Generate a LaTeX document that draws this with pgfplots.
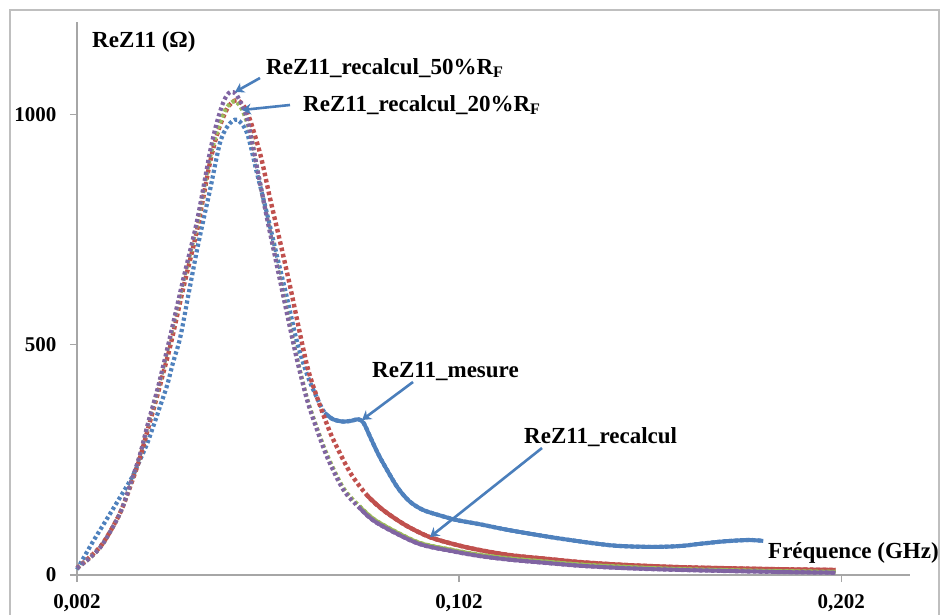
\documentclass[border=0pt]{standalone}
\usepackage{fontspec}
\setmainfont{Liberation Serif}
\usepackage{pgfplots}
\pgfplotsset{compat=1.18}
\usepackage{pgfplotstable}
\usetikzlibrary{arrows.meta}
\definecolor{cB}{HTML}{4F81BD}
\definecolor{cR}{HTML}{C0504D}
\definecolor{cG}{HTML}{9BBB59}
\definecolor{cP}{HTML}{8064A2}
\definecolor{axgray}{HTML}{A6A6A6}
\definecolor{frgray}{HTML}{BFBFBF}
\definecolor{arr}{HTML}{4A7EBB}

\pgfplotstableread{
x y
0.002 12
0.006 70
0.010 124
0.0133 169
0.0164 212
0.0185 250
0.0203 284
0.0219 321
0.0237 365
0.0256 412
0.0271 460
0.029 515
0.0312 610
0.0334 705
0.0352 775
0.0368 835
0.0394 937
0.0415 975
0.0439 988
0.0465 959
0.0491 872
0.0517 785
0.0544 690
0.057 600
0.0596 505
0.0622 435
0.0646 388
0.0668 352
0.069 338
0.0716 333
0.074 335
0.0756 338
0.077 330
0.0787 300
0.0805 268
0.0821 243
0.0858 191
0.089 160
0.0926 141
0.0975 128
0.1015 119
0.1075 110
0.116 96
0.1293 78
0.1423 64
0.1528 61
0.160 63
0.1643 67
0.170 72
0.1730 74
0.178 76
0.1816 74
}\mesure

\pgfplotstableread{
x y
0.002 15
0.0055 40
0.0088 69
0.0133 135
0.0164 203
0.0185 255
0.0206 318
0.0229 386
0.0245 436
0.0265 500
0.0298 622
0.0334 748
0.0368 895
0.039 965
0.0415 1015
0.0439 1030
0.0465 1005
0.0499 915
0.0525 818
0.0551 725
0.0578 625
0.0604 522
0.0625 445
0.0648 386
0.067 336
0.069 295
0.0735 222
0.078 172
0.0821 141
0.088 108
0.0944 82
0.1015 65
0.1075 54
0.1154 43
0.125 35
0.1337 28
0.145 22
0.1599 17
0.1827 13
0.2005 11
}\recalcul

\pgfplotstableread{
x y
0.002 15
0.0055 38
0.0088 68
0.0133 135
0.0164 207
0.0185 260
0.0206 327
0.0229 394
0.0245 447
0.0263 510
0.0298 636
0.0334 760
0.0368 905
0.039 970
0.041 1012
0.0432 1028
0.0452 1010
0.0475 955
0.0491 885
0.0517 777
0.0544 672
0.057 570
0.0596 470
0.0622 384
0.0646 324
0.0675 260
0.0717 189
0.076 149
0.0805 117
0.091 72
0.1 55
0.1075 44
0.1154 36
0.125 29
0.1337 23
0.145 18
0.1599 13
0.1827 9
0.2005 7
}\recalcA

\pgfplotstableread{
x y
0.002 15
0.0055 38
0.0088 68
0.0133 135
0.0164 208
0.0185 262
0.0206 330
0.0229 398
0.0245 452
0.0263 515
0.0298 642
0.0334 768
0.0368 918
0.0387 985
0.0405 1030
0.0421 1048
0.0439 1040
0.0465 990
0.0491 885
0.0517 775
0.0544 668
0.057 565
0.0596 466
0.0622 380
0.0646 320
0.0675 255
0.0717 185
0.076 145
0.0805 113
0.091 69
0.1 52
0.1075 41
0.1154 33
0.125 26
0.1337 20
0.145 15
0.1599 11
0.1827 7
0.2005 5
}\recalcB

\begin{document}
\begin{tikzpicture}[x=1pt,y=1pt]
\path[use as bounding box] (0,0) rectangle (941,614);
\draw[frgray, line width=2pt] (10,-20) -- (10,604) -- (939,604) -- (939,-20);
\begin{axis}[
  at={(77pt,39pt)}, anchor=south west,
  scale only axis, width=833pt, height=553pt,
  xmin=0.002, xmax=0.22, ymin=0, ymax=1200,
  axis x line=bottom, axis y line=left,
  axis line style={-, draw=axgray, line width=1.3pt},
  tick style={draw=axgray, line width=1.3pt},
  major tick length=7pt, tick align=outside,
  xtick={0.002,0.102,0.202}, xticklabels={{0,002},{0,102},{0,202}},
  ytick={0,500,1000}, yticklabels={0,500,1000},
  ticklabel style={font=\fontsize{21}{24}\selectfont\bfseries},
  xticklabel style={yshift=-9pt},
  yticklabel style={xshift=-10pt},
  /pgf/number format/assume math mode=true,
  clip=false,
]
\addplot[cB, line width=4.2pt, dash pattern=on 3.2pt off 2.6pt, smooth] table[x=x,y=y] {\mesure};
\addplot[cB, line width=4pt, smooth, restrict x to domain=0.066:0.25] table[x=x,y=y] {\mesure};
\addplot[cR, line width=4.4pt, dash pattern=on 3.6pt off 2.8pt, smooth] table[x=x,y=y] {\recalcul};
\addplot[cR, line width=4.2pt, smooth, restrict x to domain=0.074:0.25] table[x=x,y=y] {\recalcul};
\addplot[cG, line width=4pt, dash pattern=on 3.2pt off 2.8pt, smooth] table[x=x,y=y] {\recalcA};
\addplot[cG, line width=3.6pt, smooth, restrict x to domain=0.074:0.25] table[x=x,y=y] {\recalcA};
\addplot[cP, line width=4.2pt, dash pattern=on 3.2pt off 2.8pt, smooth] table[x=x,y=y] {\recalcB};
\addplot[cP, line width=3.8pt, smooth, restrict x to domain=0.074:0.25] table[x=x,y=y] {\recalcB};
\end{axis}
\begin{scope}[font=\fontsize{23}{27}\selectfont\bfseries]
\node[anchor=west, inner sep=0pt] at (92,572) {ReZ11 (Ω)};
\node[anchor=west, inner sep=0pt] at (768,61) {Fréquence (GHz)};
\node[anchor=west, inner sep=0pt] at (266,546) {ReZ11\_recalcul\_50\%R\textsubscript{F}};
\node[anchor=west, inner sep=0pt] at (303,509) {ReZ11\_recalcul\_20\%R\textsubscript{F}};
\node[anchor=west, inner sep=0pt] at (372,242) {ReZ11\_mesure};
\node[anchor=west, inner sep=0pt] at (524,177) {ReZ11\_recalcul};
\end{scope}
\begin{scope}[arr, line width=2.6pt, -{Stealth[length=9pt,width=11pt]}]
\draw (260,536) -- (235,522);
\draw (290,509) -- (242,504);
\draw (413,232) -- (362,194);
\draw (542,166) -- (430,77);
\end{scope}
\end{tikzpicture}
\end{document}
